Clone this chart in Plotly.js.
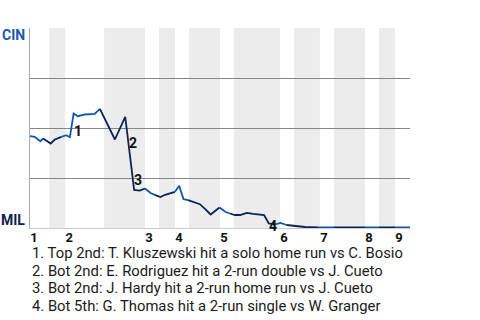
<!DOCTYPE html>
<html>
<head>
<meta charset="utf-8">
<script src="https://cdn.plot.ly/plotly-3.0.1.min.js"></script>
<style>html,body{margin:0;padding:0;background:#fff;}#chart{width:480px;height:320px;}</style>
</head>
<body>
<div id="chart"></div>
<script>
// play index (x) and CIN win probability (y)
const playX = [0, 1.0, 2.2, 2.8, 4.4, 5.3, 6.7, 7.7, 8.5, 9.3, 10.2, 11.7, 13.8, 14.9, 18.1, 20.3, 21.0, 22.2, 23.4, 24.5, 25.7, 26.6, 27.8, 28.8, 30.2, 30.9, 31.8, 32.7, 33.7, 35.2, 36.2, 37.3, 38.5, 40.4, 41.6, 42.6, 43.7, 44.8, 46.2, 47.6, 48.7, 49.9, 50.9, 52.2, 53.4, 54.7, 56.5, 58.6, 61.4, 63.9, 64.8, 71.4, 74.4, 77.8, 81];
const winProb = [0.459, 0.456, 0.434, 0.4475, 0.4225, 0.4425, 0.456, 0.464, 0.454, 0.5725, 0.559, 0.5675, 0.571, 0.596, 0.4425, 0.556, 0.4175, 0.19, 0.1865, 0.1975, 0.175, 0.166, 0.155, 0.166, 0.176, 0.181, 0.211, 0.145, 0.139, 0.126, 0.119, 0.096, 0.0675, 0.1025, 0.081, 0.0725, 0.065, 0.065, 0.076, 0.071, 0.069, 0.065, 0.0225, 0.0175, 0.025, 0.015, 0.0115, 0.005, 0.0035, 0.003, 0.003, 0.003, 0.003, 0.003, 0.003];
// half-inning boundaries (top 1st, bottom 1st, top 2nd, ...)
const halfBounds = [0, 4.1, 7.5, 15.8, 24.5, 27.5, 30.9, 33.9, 40.5, 43.5, 53.3, 56.3, 61.8, 64.8, 71.4, 74.4, 77.8, 81];
const inningLabels = ["1", "2", "3", "4", "5", "6", "7", "8", "9"];
const teams = ["MIL", "CIN"];
const eventLabels = ["1", "2", "3", "4"];
const eventNotes = [
  "1. Top 2nd: T. Kluszewski hit a solo home run vs C. Bosio",
  "2. Bot 2nd: E. Rodriguez hit a 2-run double vs J. Cueto",
  "3. Bot 2nd: J. Hardy hit a 2-run home run vs J. Cueto",
  "4. Bot 5th: G. Thomas hit a 2-run single vs W. Granger"
];

const BLUE = "#0f55b5", NAVY = "#0b2356";

function halfOf(u) {
  let h = 0;
  for (let k = 0; k < halfBounds.length - 1; k++) if (halfBounds[k] < u) h = k;
  return h;
}

// group segments by half-inning
const traces = [];
let cur = null;
for (let i = 1; i < playX.length; i++) {
  const h = halfOf(playX[i]);
  if (!cur || cur.h !== h) {
    cur = {h: h, x: [playX[i - 1]], y: [winProb[i - 1]]};
    traces.push(cur);
  }
  cur.x.push(playX[i]);
  cur.y.push(winProb[i]);
}
const data = traces.map(t => ({
  type: "scatter", mode: "lines", x: t.x, y: t.y,
  line: {color: t.h % 2 === 0 ? BLUE : NAVY, width: 1.8},
  hoverinfo: "skip", showlegend: false
}));

const shapes = [];
for (let k = 1; k < halfBounds.length - 1; k += 2) {
  shapes.push({type: "rect", xref: "x", yref: "paper", x0: halfBounds[k], x1: halfBounds[k + 1], y0: 0, y1: 1,
    fillcolor: "#ececec", line: {width: 0}, layer: "below"});
}
const inningStarts = halfBounds.filter((b, k) => k % 2 === 0 && k < halfBounds.length - 1);

const evPos = [[10.17, 0.484], [22.02, 0.426], [22.96, 0.2425], [51.86, 0.0125]];
const annotations = eventLabels.map((t, i) => ({
  text: t, x: evPos[i][0], y: evPos[i][1], xref: "x", yref: "y", showarrow: false,
  font: {family: "Roboto", size: 14, color: "#111", weight: "bold"}
}));
annotations.push({text: teams[1], xref: "paper", yref: "paper", x: 0, y: 1, xanchor: "right", yanchor: "top",
  xshift: -3, yshift: 3, showarrow: false, font: {family: "Roboto", size: 14, color: "#1c57b0", weight: "bold"}});
annotations.push({text: teams[0], xref: "paper", yref: "paper", x: 0, y: 0, xanchor: "right", yanchor: "bottom",
  xshift: -3, yshift: -2, showarrow: false, font: {family: "Roboto", size: 14, color: "#0f2152", weight: "bold"}});
eventNotes.forEach((t, i) => {
  annotations.push({text: t, xref: "paper", yref: "paper", x: 0, y: 0, xanchor: "left", yanchor: "middle",
    xshift: 0, yshift: -24.8 - 17.8 * i, align: "left", showarrow: false,
    font: {family: "Roboto", size: 14.8, color: "#1a1a1a"}});
});

const layout = {
  width: 480, height: 320,
  margin: {l: 30, r: 70, t: 28, b: 92},
  paper_bgcolor: "#fff", plot_bgcolor: "#fff",
  xaxis: {range: [0, 81], tickvals: inningStarts, ticktext: inningLabels, showgrid: false, zeroline: false,
    showline: true, linecolor: "#cccccc", linewidth: 1, ticks: "", ticklabelshift: 4, ticklabelstandoff: -3,
    tickfont: {family: "Roboto", size: 13, color: "#111", weight: "bold"}, fixedrange: true},
  yaxis: {range: [0, 1], tickvals: [0.25, 0.5, 0.75, 1], showticklabels: false, showgrid: true,
    gridcolor: "#858585", gridwidth: 1, zeroline: false, showline: true, linecolor: "#aaaaaa", linewidth: 1,
    ticks: "", fixedrange: true},
  shapes: shapes,
  annotations: annotations
};
Plotly.newPlot("chart", data, layout, {displayModeBar: false, staticPlot: true});
</script>
</body>
</html>
